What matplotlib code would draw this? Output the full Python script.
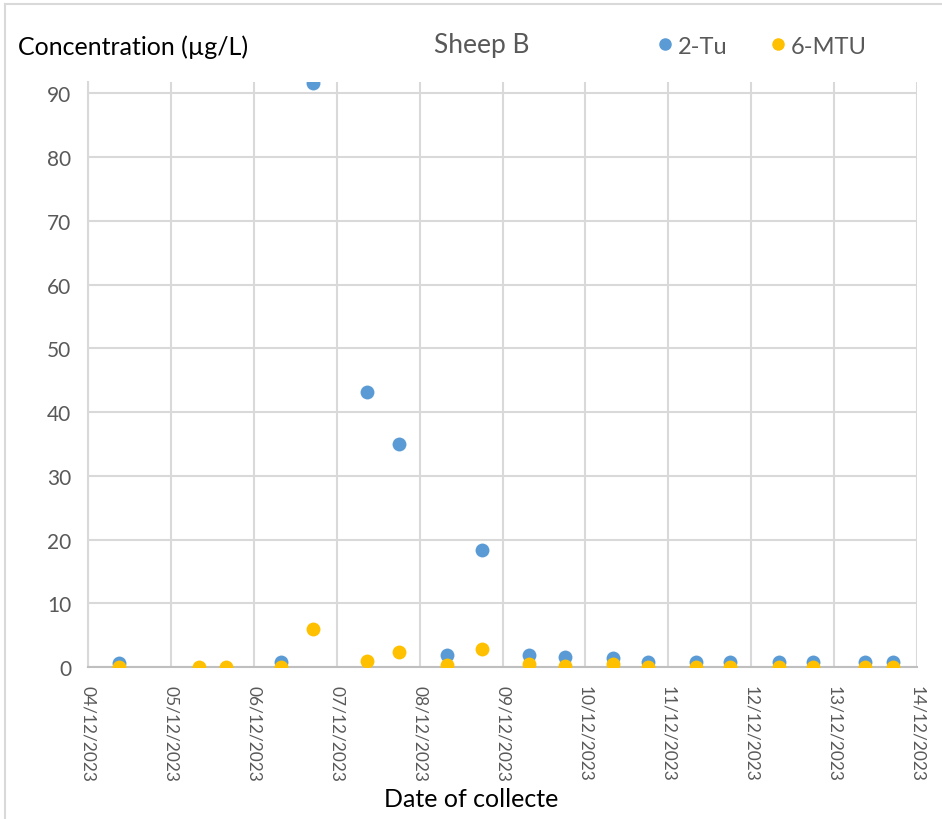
import matplotlib
matplotlib.use("Agg")
import matplotlib.pyplot as plt
import matplotlib.dates as mdates
import numpy as np
import pandas as pd
from matplotlib.lines import Line2D

plt.rcParams['font.family'] = ['Lato', 'DejaVu Sans']

times = ["2023-12-04 09:00", "2023-12-05 08:00", "2023-12-05 16:00", "2023-12-06 08:00",
         "2023-12-06 17:00", "2023-12-07 08:45", "2023-12-07 18:00", "2023-12-08 08:00",
         "2023-12-08 18:00", "2023-12-09 07:45", "2023-12-09 18:00", "2023-12-10 08:00",
         "2023-12-10 18:00", "2023-12-11 08:00", "2023-12-11 18:00", "2023-12-12 08:00",
         "2023-12-12 18:00", "2023-12-13 09:00", "2023-12-13 17:00"]
tu2 = [0.7, np.nan, np.nan, 0.8, 91.6, 43.2, 35.05, 1.9, 18.4, 1.9, 1.55, 1.4, 0.75,
       0.75, 0.75, 0.75, 0.75, 0.75, 0.75]
mtu6 = [0.0, 0.0, 0.0, 0.0, 5.95, 0.9, 2.4, 0.35, 2.75, 0.5, 0.15, 0.4, 0.05,
        0.0, 0.0, 0.0, 0.0, 0.0, 0.0]
series_names = ["2-Tu", "6-MTU"]
colors = ["#5B9BD5", "#FFC000"]
yticks = list(range(0, 100, 10))

dates = pd.to_datetime(times)

W, H = 942, 820
fig = plt.figure(figsize=(W / 100, H / 100), dpi=100)
ax = fig.add_axes([88 / W, 1 - 668 / H, (917 - 88) / W, (668 - 83) / H])

ax.scatter(dates, tu2, s=100, color=colors[0], zorder=3, linewidths=0)
ax.scatter(dates, mtu6, s=100, color=colors[1], zorder=4, linewidths=0)

ax.set_xlim(pd.Timestamp("2023-12-04"), pd.Timestamp("2023-12-14"))
ax.set_ylim(0, 91.8)
ax.xaxis.set_major_locator(mdates.DayLocator())
ax.xaxis.set_major_formatter(mdates.DateFormatter("%d/%m/%Y"))
ax.set_yticks(yticks)

grid_c = "#D9D9D9"
ax.grid(True, color=grid_c, linewidth=1.5, zorder=0)
ax.set_axisbelow(True)
for s in ["top", "right"]:
    ax.spines[s].set_visible(False)
ax.spines["left"].set_color(grid_c)
ax.spines["left"].set_linewidth(1.5)
ax.spines["bottom"].set_color("#BFBFBF")
ax.spines["bottom"].set_linewidth(1.5)
ax.tick_params(axis="both", length=0, colors="#595959")
ax.tick_params(axis="y", pad=12, labelsize=15)
ax.tick_params(axis="x", pad=13, labelsize=12.5)
for lab in ax.get_xticklabels():
    lab.set_rotation(-90)
    lab.set_ha("center")
    lab.set_va("top")

fig.text(18 / W, 1 - 47 / H, "Concentration (µg/L)", fontsize=18, color="black",
         ha="left", va="center")
fig.text(482 / W, 1 - 45 / H, "Sheep B", fontsize=19, color="#595959",
         ha="center", va="center")
fig.text(471 / W, 1 - 800 / H, "Date of collecte", fontsize=18, color="black",
         ha="center", va="center")

handles = [Line2D([], [], marker="o", linestyle="", color=c, markersize=8) for c in colors]
fig.legend(handles, series_names, loc="center", bbox_to_anchor=(760 / W, 1 - 47 / H),
           ncol=2, frameon=False, fontsize=17, labelcolor="#595959",
           handletextpad=0.05, columnspacing=1.6, handlelength=1.0)

# chart area border
fig.add_artist(Line2D([5 / W, 5 / W], [0, 1 - 5 / H], color="#D9D9D9", linewidth=1.5))
fig.add_artist(Line2D([5 / W, 1], [1 - 5 / H, 1 - 5 / H], color="#D9D9D9", linewidth=1.5))

fig.savefig("out.png", dpi=100)
